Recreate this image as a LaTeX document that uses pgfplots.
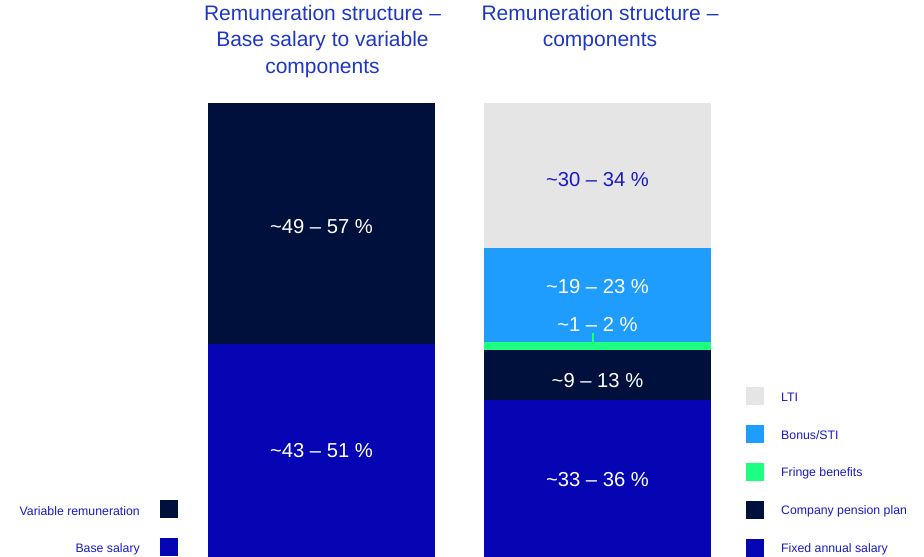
\documentclass[border=0pt]{standalone}
\usepackage{pgfplots}
\pgfplotsset{compat=1.18}
\usepackage{fontspec}
\setmainfont{Liberation Sans}
\definecolor{navy}{RGB}{0,16,60}
\definecolor{royal}{RGB}{5,5,180}
\definecolor{ltgrey}{RGB}{229,229,229}
\definecolor{skyb}{RGB}{30,157,255}
\definecolor{mint}{RGB}{30,255,130}
\definecolor{titleblue}{RGB}{30,55,200}
\definecolor{lblblue}{RGB}{25,25,200}
\begin{document}
\begin{tikzpicture}[x=1pt,y=1pt]
\useasboundingbox (0,0) rectangle (924,557);
\begin{axis}[
  at={(0,0)}, anchor=south west,
  scale only axis, width=924pt, height=557pt,
  xmin=0, xmax=924, ymin=0, ymax=122.687,
  hide axis, clip=false,
  ybar stacked, bar width=227,
  every axis plot/.append style={draw=none},
]
% left bar: base salary / variable remuneration (midpoints of ranges)
\addplot[fill=royal] coordinates {(321.5,47)};
\addplot[fill=navy] coordinates {(321.5,53)};
\end{axis}
\begin{axis}[
  at={(0,0)}, anchor=south west,
  scale only axis, width=924pt, height=557pt,
  xmin=0, xmax=924, ymin=0, ymax=122.687,
  hide axis, clip=false,
  ybar stacked, bar width=227,
  every axis plot/.append style={draw=none},
]
% right bar: components (midpoints of ranges)
\addplot[fill=royal] coordinates {(597.5,34.5)};
\addplot[fill=navy] coordinates {(597.5,11)};
\addplot[fill=mint] coordinates {(597.5,1.75)};
\addplot[fill=skyb] coordinates {(597.5,20.75)};
\addplot[fill=ltgrey] coordinates {(597.5,32)};
\end{axis}
% pixel-based annotations (y measured from top)
\begin{scope}[shift={(0,557)}, yscale=-1]
\tikzset{bl/.style={font=\fontsize{20.2}{23}\selectfont, text=white, anchor=center, inner sep=0pt}}
\node[bl] at (321.5,227) {\smash{\textasciitilde}49 – 57 \%};
\node[bl] at (321.5,451) {\smash{\textasciitilde}43 – 51 \%};
\node[bl, text=lblblue] at (597.5,180) {\smash{\textasciitilde}30 – 34 \%};
\node[bl] at (597.5,287) {\smash{\textasciitilde}19 – 23 \%};
\node[bl] at (597.5,325) {\smash{\textasciitilde}1 – 2 \%};
\node[bl] at (597.5,381) {\smash{\textasciitilde}9 – 13 \%};
\node[bl] at (597.5,480) {\smash{\textasciitilde}33 – 36 \%};
\draw[mint, line width=1.5pt] (593,333) -- (593,343);
% titles
\tikzset{tt/.style={font=\fontsize{21}{26.5}\selectfont, text=titleblue, align=center, anchor=north, inner sep=0pt}}
\node[tt] at (322.5,5) {Remuneration structure –\\Base salary to variable\\components};
\node[tt] at (600,5) {Remuneration structure –\\components};
% left legend
\tikzset{lg/.style={font=\fontsize{12.3}{14}\selectfont, text=lblblue, inner sep=0pt}}
\fill[navy] (160,500) rectangle (178,518);
\fill[royal] (160,538) rectangle (178,556);
\node[lg, anchor=east] at (140,511) {Variable remuneration};
\node[lg, anchor=east] at (140,549) {Base salary};
% right legend
\fill[ltgrey] (746,387) rectangle (764,405);
\fill[skyb] (746,425) rectangle (764,443);
\fill[mint] (746,463) rectangle (764,481);
\fill[navy] (746,501) rectangle (764,519);
\fill[royal] (746,539) rectangle (764,557);
\node[lg, anchor=west] at (781,397) {LTI};
\node[lg, anchor=west] at (781,435) {Bonus/STI};
\node[lg, anchor=west] at (781,473) {Fringe benefits};
\node[lg, anchor=west] at (781,511) {Company pension plan};
\node[lg, anchor=west] at (781,549) {Fixed annual salary};
\end{scope}
\end{tikzpicture}
\end{document}
